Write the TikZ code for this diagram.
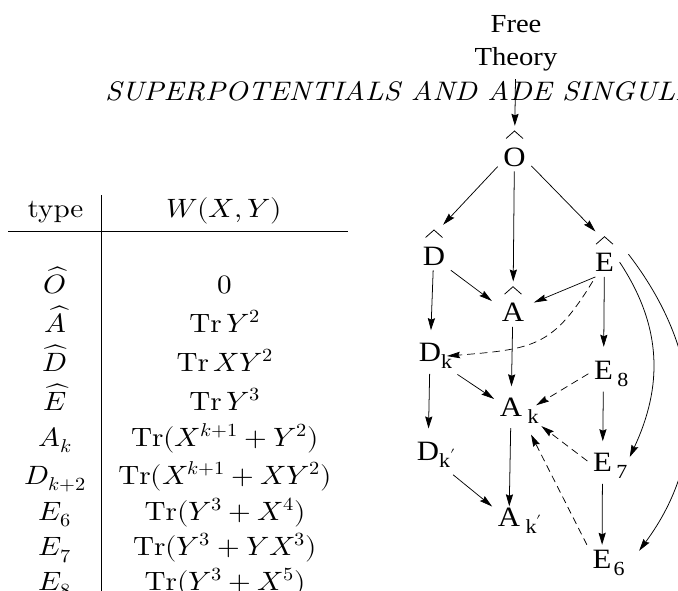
\documentclass[tikz,border=0pt]{standalone}
\usepackage{amsmath}
\usepackage{unicode-math}
\setmainfont{lmroman10-regular.otf}[ItalicFont=lmroman10-italic.otf]
\setmathfont{latinmodern-math.otf}
\newfontfamily\figfont{Liberation Serif}
\usetikzlibrary{arrows.meta}

\newcommand{\lowsub}[1]{\raisebox{-7pt}{\fontsize{20}{20}\selectfont #1}}

\begin{document}
\begin{tikzpicture}[x=1pt, y=1pt,
  gnode/.style={font=\figfont\fontsize{28}{28}\selectfont, inner sep=5pt, anchor=base},
  hatnode/.style={gnode, text height=35pt},
  tcell/.style={font=\fontsize{26.5}{30}\selectfont, inner sep=0pt, anchor=base},
  arr/.style={-{Stealth[length=12pt, width=6.5pt, inset=1.5pt]}, line width=0.7pt},
  darr/.style={arr, dash pattern=on 7pt off 4.5pt},
  hatline/.style={line width=0.75pt},
  rulel/.style={line width=1.3pt}]
  \useasboundingbox (0,0) rectangle (678,-590);
  \begin{scope}[x=0.9091pt, transform canvas={xscale=1.1}]

  % running head
  \node[anchor=base west, inner sep=0pt, font=\itshape\fontsize{26.8}{30}\selectfont]
    (runhead) at (105,-100) {SUPERPOTENTIALS AND ADE SINGULARITIES};

  % the table
  \draw[rulel] (8.3,-231.5) -- (348.3,-231.5);
  \draw[rulel] (101.5,-195) -- (101.5,-595);
  \node[tcell] (htype) at (55.5,-217.5) {type};
  \node[tcell] (hw) at (224,-217.5) {$W(X,Y)$};
  \node[tcell] (ro) at (55,-293.5) {$\widehat{O}$};
  \node[tcell] (wo) at (225,-293.5) {$0$};
  \node[tcell] (ra) at (55,-332.5) {$\widehat{A}$};
  \node[tcell] (wa) at (225,-332.5) {$\operatorname{Tr}Y^2$};
  \node[tcell] (rd) at (55,-371) {$\widehat{D}$};
  \node[tcell] (wd) at (225,-371) {$\operatorname{Tr}XY^2$};
  \node[tcell] (re) at (55,-410) {$\widehat{E}$};
  \node[tcell] (we) at (225,-410) {$\operatorname{Tr}Y^3$};
  \node[tcell] (rak) at (55,-446) {$A_k$};
  \node[tcell] (wak) at (225,-446) {$\operatorname{Tr}(X^{k+1}+Y^2)$};
  \node[tcell] (rdk) at (55,-484) {$D_{k+2}$};
  \node[tcell] (wdk) at (225,-484) {$\operatorname{Tr}(X^{k+1}+XY^2)$};
  \node[tcell] (rsix) at (55,-520) {$E_6$};
  \node[tcell] (wsix) at (225,-520) {$\operatorname{Tr}(Y^3+X^4)$};
  \node[tcell] (rseven) at (55,-555.5) {$E_7$};
  \node[tcell] (wseven) at (225,-555.5) {$\operatorname{Tr}(Y^3+YX^3)$};
  \node[tcell] (reight) at (55,-590) {$E_8$};
  \node[tcell] (weight) at (225,-590) {$\operatorname{Tr}(Y^3+X^5)$};

  % the flow of theories
  \node[gnode, anchor=north, align=center, font=\figfont\fontsize{26}{33}\selectfont]
    (free) at (516,-10) {Free\\Theory};
  \node[hatnode] (oh) at (514.5,-166) {O};
  \node[hatnode] (dh) at (434,-265) {D};
  \node[hatnode] (eh) at (604.5,-271.7) {E};
  \node[hatnode] (ah) at (513,-321.7) {A};
  \node[gnode] (dk) at (430,-361.7) {D\rlap{\lowsub{k}}};
  \node[gnode] (ak) at (511,-416) {A\rlap{\kern5pt\lowsub{k}}};
  \node[gnode] (e8) at (603.5,-379.3) {E\rlap{\kern4pt\lowsub{8}}};
  \node[gnode] (dkp) at (428,-460) {D\rlap{\lowsub{k$'$}}};
  \node[gnode] (akp) at (509,-526) {A\rlap{\kern5pt\lowsub{k$'$}}};
  \node[gnode] (e7) at (602.5,-471.7) {E\rlap{\kern4pt\lowsub{7}}};
  \node[gnode] (e6) at (602,-568.3) {E\rlap{\kern2pt\lowsub{6}}};

  \foreach \n in {oh,dh,eh,ah}
    \draw[hatline] ([xshift=-7.7pt,yshift=27.5pt]\n.base) -- ([yshift=35pt]\n.base)
      -- ([xshift=7.7pt,yshift=27.5pt]\n.base);

  \draw[arr, shorten <=3pt] (free) -- (oh);
  \draw[arr] (oh) -- (dh.70);
  \draw[arr] (oh) -- (ah);
  \draw[arr] (oh) -- (eh.110);
  \draw[arr, shorten >=5pt] (dh.south east) -- (ah.west);
  \draw[arr, shorten >=4pt] (eh.-110) -- (ah.east);
  \draw[arr, shorten >=8pt] (dh) -- (dk);
  \draw[arr, shorten >=6pt] (ah) -- (ak);
  \draw[arr, shorten >=9pt] (eh) -- (e8);
  \draw[darr, shorten <=5pt] (eh.-110) to[out=241, in=5, looseness=1.3] (dk.east);
  \draw[arr] (eh.-30) to[out=-59, in=67] ([xshift=11pt,yshift=9pt]e7.east);
  \draw[arr] ([xshift=8pt]eh.east) to[out=-55, in=56] ([xshift=20pt,yshift=-6pt]e6.north east);
  \draw[arr, shorten <=12pt] (dk) -- (ak);
  \draw[arr, shorten >=8pt] (dk) -- (dkp);
  \draw[darr, shorten >=9pt] (e8.west) -- (ak.east);
  \draw[arr, shorten >=7pt] (e8) -- (e7);
  \draw[arr, shorten >=-4pt] (ak) -- (akp);
  \draw[darr, shorten >=16pt] (e7.160) -- (ak.-20);
  \draw[arr] (e7) -- (e6);
  \draw[darr, shorten >=7pt] (e6.north west) -- (ak.south east);
  \draw[arr, shorten <=10pt] (dkp) -- (akp);
  \end{scope}
\end{tikzpicture}
\end{document}
